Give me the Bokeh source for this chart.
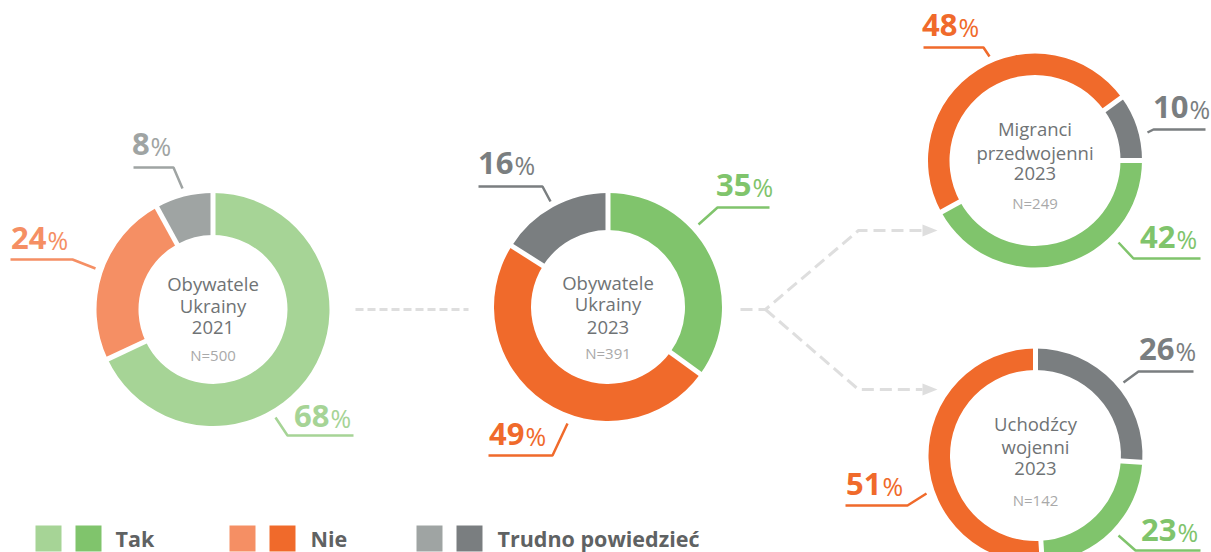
import numpy as np
from bokeh.plotting import figure
from bokeh.models import Range1d, ColumnDataSource
from bokeh.core.properties import value
from bokeh.embed import file_html
from bokeh.resources import INLINE

# ---------------- data ----------------
groups = ["Obywatele Ukrainy 2021", "Obywatele Ukrainy 2023",
          "Migranci przedwojenni 2023", "Uchodźcy wojenni 2023"]
title_lines = [["Obywatele", "Ukrainy", "2021"],
               ["Obywatele", "Ukrainy", "2023"],
               ["Migranci", "przedwojenni", "2023"],
               ["Uchodźcy", "wojenni", "2023"]]
sample_n = [500, 391, 249, 142]
categories = ["Tak", "Nie", "Trudno powiedzieć"]
tak = [68, 35, 42, 23]
nie = [24, 49, 48, 51]
trudno = [8, 16, 10, 26]

# ---------------- styles / layout ----------------
LIGHT = ["#A6D496", "#F58F64", "#9FA4A3"]
DARK = ["#80C46C", "#F06A2B", "#7A7E80"]
palettes = [LIGHT, DARK, DARK, DARK]
FONT = value("Open Sans")

W, H = 1211, 552
def Y(iy):
    return H - iy

BASE_K = 0.37  # empirical shift so that y is the text's visual baseline
def TY(baseline, fs):
    return Y(baseline - BASE_K * fs)

centers = [(212.5, 309), (607.5, 306.5), (1034.5, 160), (1035, 455)]
outer_r = [116.5, 114, 107, 107]
inner_r = [74.5, 77, 85.5, 85.5]
start_deg = [90, 90, 0, 90]
orders = [[0, 1, 2], [0, 1, 2], [0, 1, 2], [2, 0, 1]]
title_y = [[283, 305, 327, 355], [282, 303, 327, 353],
           [128, 152, 173, 203], [423, 446, 468, 500]]

# label anchor (number left x, baseline y) and leader polyline, per category
label_pos = [
    [(293.5, 427), (10.5, 249), (131.5, 155)],
    [(715.5, 196), (488.5, 445), (477.5, 174)],
    [(1139.5, 248), (921.5, 36), (1152.5, 118)],
    [(1140.5, 541), (845.5, 495), (1138.5, 360)],
]
leaders = [
    [[(275, 417), (287, 435), (353, 435)], [(10, 259), (72, 259), (95, 268)], [(133, 167), (173, 167), (182, 188)]],
    [[(698, 224), (717, 207), (769, 207)], [(488, 455), (552, 455), (567, 423)], [(478, 186), (542, 186), (550, 201)]],
    [[(1118, 242), (1133, 258), (1200, 258)], [(923, 47), (983, 47), (989, 56)], [(1147, 132), (1153, 129), (1205, 129)]],
    [[(1118, 535), (1135, 550), (1200, 550)], [(845, 505), (907, 505), (926, 493)], [(1123, 382), (1138, 371), (1193, 371)]],
]

p = figure(width=W, height=H, x_range=Range1d(0, W), y_range=Range1d(0, H),
           output_backend="svg", toolbar_location=None, min_border=0)
p.axis.visible = False
p.grid.visible = False
p.outline_line_color = None
p.background_fill_color = "white"

values = [tak, nie, trudno]

# ---------------- connectors ----------------
CONN = "#DEDEDE"
p.line([355, 468], [Y(309)] * 2, line_color=CONN, line_width=3, line_dash="8 4")
p.line([740, 765, 858, 922], [Y(309), Y(309), Y(230), Y(230)], line_color=CONN, line_width=3, line_dash="12 6")
p.line([765, 858, 922], [Y(309), Y(389), Y(389)], line_color=CONN, line_width=3, line_dash="12 6")
p.patches([[922, 937, 922], [922, 937, 922]],
          [[Y(224), Y(230), Y(236)], [Y(383), Y(389), Y(395)]],
          fill_color=CONN, line_color=None)

# ---------------- donuts ----------------
NUM_FS, PCT_FS = 31, 25
for d in range(4):
    cx, cy = centers[d]
    ang = start_deg[d]
    st, en, col, bounds = [], [], [], []
    for c in orders[d]:
        v = values[c][d]
        end = ang - v * 3.6
        st.append(np.radians(ang)); en.append(np.radians(end))
        col.append(palettes[d][c])
        bounds.append(ang)
        ang = end
    src = ColumnDataSource(dict(x=[cx] * 3, y=[Y(cy)] * 3, s=st, e=en, c=col))
    p.annular_wedge(x="x", y="y", inner_radius=inner_r[d], outer_radius=outer_r[d],
                    start_angle="s", end_angle="e", direction="clock",
                    fill_color="c", line_color=None, source=src)
    # white gaps between segments
    xs, ys = [], []
    for b in bounds:
        a = np.radians(b)
        r0, r1 = inner_r[d] - 3, outer_r[d] + 3
        xs.append([cx + r0 * np.cos(a), cx + r1 * np.cos(a)])
        ys.append([Y(cy) + r0 * np.sin(a), Y(cy) + r1 * np.sin(a)])
    p.multi_line(xs, ys, line_color="white", line_width=5)

    # center texts
    for i, t in enumerate(title_lines[d]):
        p.text(x=[cx], y=[TY(title_y[d][i] + 6.5, 18.5)], text=[t], text_font=FONT,
               text_font_size="18.5px", text_color="#6F7375",
               text_align="center", text_baseline="alphabetic")
    p.text(x=[cx], y=[TY(title_y[d][3] + 5.5, 15)], text=[f"N={sample_n[d]}"], text_font=FONT,
           text_font_size="15px", text_color="#A9A9A9",
           text_align="center", text_baseline="alphabetic")

    # labels and leaders
    for c in range(3):
        v = values[c][d]
        color = palettes[d][c]
        lx, ly = label_pos[d][c]
        s = str(v)
        p.text(x=[lx], y=[TY(ly, NUM_FS)], text=[s], text_font=FONT,
               text_font_size=f"{NUM_FS}px", text_font_style="bold", text_color=color,
               text_align="left", text_baseline="alphabetic")
        p.text(x=[lx + 18.0 * len(s) + 0.5], y=[TY(ly, PCT_FS)], text=["%"], text_font=FONT,
               text_font_size=f"{PCT_FS}px", text_color=color,
               text_align="left", text_baseline="alphabetic")
        pts = leaders[d][c]
        p.line([q[0] for q in pts], [Y(q[1]) for q in pts], line_color=color, line_width=2.5)

# ---------------- legend ----------------
leg_x = [(35, 75, 116), (229, 269, 311), (416, 456, 498)]
for c, name in enumerate(categories):
    a, b, tx = leg_x[c]
    p.rect(x=[a + 13, b + 13], y=[Y(538)] * 2, width=26, height=26,
           fill_color=[LIGHT[c], DARK[c]], line_color=None)
    p.text(x=[tx - 1], y=[TY(546, 21.5)], text=[name], text_font=FONT, text_font_size="21.5px",
           text_font_style="bold", text_color="#5F6263",
           text_align="left", text_baseline="alphabetic")

open("out.html", "w").write(file_html(p, INLINE))
